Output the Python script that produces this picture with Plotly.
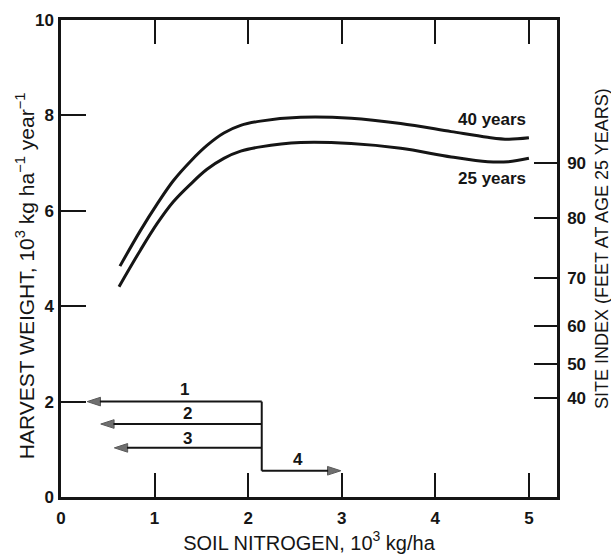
import plotly.graph_objects as go

# ---- data ----
nitrogen_40 = [0.63, 0.85, 1.03, 1.20, 1.39, 1.56, 1.74, 1.92, 2.13, 2.56, 3.10, 3.63, 4.17, 4.56, 4.78, 5.00]
harvest_40 = [4.84, 5.59, 6.15, 6.63, 7.05, 7.37, 7.63, 7.79, 7.88, 7.96, 7.94, 7.83, 7.66, 7.54, 7.50, 7.53]

nitrogen_25 = [0.62, 0.85, 1.03, 1.20, 1.39, 1.56, 1.74, 1.92, 2.13, 2.56, 3.10, 3.63, 4.17, 4.56, 4.78, 5.00]
harvest_25 = [4.41, 5.18, 5.74, 6.19, 6.57, 6.87, 7.10, 7.25, 7.34, 7.43, 7.41, 7.31, 7.13, 7.03, 7.03, 7.10]

curve_labels = ["40 years", "25 years"]
curve_label_x = [4.99, 4.99]
curve_label_y = [7.92, 6.68]

x_ticks = [0, 1, 2, 3, 4, 5]
y_ticks = [0, 2, 4, 6, 8, 10]
site_index_labels = ["90", "80", "70", "60", "50", "40"]
site_index_pos = [7.00, 5.85, 4.59, 3.59, 2.78, 2.07]   # in harvest-weight units

# decision arrows
branch_x = 2.145
arrow_labels = ["1", "2", "3", "4"]
arrow_y = [2.0, 1.53, 1.03, 0.55]
arrow_tip_x = [0.28, 0.425, 0.57, 2.99]
arrow_label_x = [1.32, 1.35, 1.35, 2.53]
arrow_label_y = [2.26, 1.75, 1.23, 0.78]

INK = "#151515"
FONT = "Liberation Sans, Arial, sans-serif"

fig = go.Figure()

fig.add_trace(go.Scatter(x=nitrogen_40, y=harvest_40, mode="lines",
                         line=dict(color=INK, width=3, shape="spline", smoothing=1.0),
                         showlegend=False, hoverinfo="skip"))
fig.add_trace(go.Scatter(x=nitrogen_25, y=harvest_25, mode="lines",
                         line=dict(color=INK, width=3, shape="spline", smoothing=1.0),
                         showlegend=False, hoverinfo="skip"))

# vertical branch line
fig.add_trace(go.Scatter(x=[branch_x, branch_x], y=[max(arrow_y), min(arrow_y)], mode="lines",
                         line=dict(color=INK, width=2), showlegend=False, hoverinfo="skip"))

# arrows: line from the branch to the tip, arrow marker at the tip
for xt, yv in zip(arrow_tip_x, arrow_y):
    fig.add_trace(go.Scatter(x=[branch_x, xt], y=[yv, yv], mode="lines+markers",
                             line=dict(color=INK, width=2),
                             marker=dict(symbol="arrow", angleref="previous", size=[0, 14],
                                         color="#333333", line=dict(width=1, color=INK)),
                             showlegend=False, hoverinfo="skip"))

# invisible trace on right axis so it renders
fig.add_trace(go.Scatter(x=[None], y=[None], yaxis="y2", showlegend=False, hoverinfo="skip"))

annotations = []
for t, xl, yl in zip(arrow_labels, arrow_label_x, arrow_label_y):
    annotations.append(dict(x=xl, y=yl, xref="x", yref="y", text=t, showarrow=False,
                            font=dict(family=FONT, size=17, color=INK, weight="bold")))
for t, xl, yl in zip(curve_labels, curve_label_x, curve_label_y):
    annotations.append(dict(x=xl, y=yl, xref="x", yref="y", text=t, showarrow=False,
                            xanchor="right",
                            font=dict(family=FONT, size=17, color=INK, weight="bold")))

# vertical axis titles
annotations.append(dict(x=0, y=0.463, xref="paper", yref="paper", xshift=-36,
                        text="HARVEST WEIGHT, 10<sup>3</sup> kg ha<sup>\u22121</sup> year<sup>\u22121</sup>",
                        textangle=-90, showarrow=False, xanchor="center", yanchor="middle",
                        font=dict(family=FONT, size=21, color=INK)))
annotations.append(dict(x=1, y=0.52, xref="paper", yref="paper", xshift=45,
                        text="SITE INDEX (FEET AT AGE 25 YEARS)",
                        textangle=-90, showarrow=False, xanchor="center", yanchor="middle",
                        font=dict(family=FONT, size=18, color=INK)))

tickfont = dict(family=FONT, size=17, color=INK, weight="bold")

fig.update_layout(
    width=611, height=556,
    margin=dict(l=61, r=54, t=20, b=59, autoexpand=False),
    paper_bgcolor="white", plot_bgcolor="white",
    annotations=annotations,
    xaxis=dict(range=[0, 5.3], tickvals=x_ticks, ticks="inside", ticklen=24, tickwidth=2,
               tickcolor=INK, showline=True, linecolor=INK, linewidth=2.5, mirror="ticks",
               showgrid=False, zeroline=False, tickfont=tickfont, ticklabelstandoff=4,
               automargin=False,
               title=dict(text="SOIL NITROGEN, 10<sup>3</sup> kg/ha",
                          font=dict(family=FONT, size=20, color=INK), standoff=8)),
    yaxis=dict(range=[0, 10], tickvals=y_ticks, ticks="inside", ticklen=25, tickwidth=2,
               tickcolor=INK, showline=True, linecolor=INK, linewidth=2.5,
               showgrid=False, zeroline=False, tickfont=tickfont, ticklabelstandoff=1,
               automargin=False),
    yaxis2=dict(range=[0, 10], overlaying="y", side="right", tickvals=site_index_pos,
                ticktext=site_index_labels, ticks="inside", ticklen=23, tickwidth=2,
                tickcolor=INK, showline=True, linecolor=INK, linewidth=2.5,
                showgrid=False, zeroline=False, tickfont=tickfont, ticklabelstandoff=4,
                automargin=False),
)

fig.write_html("out.html")
